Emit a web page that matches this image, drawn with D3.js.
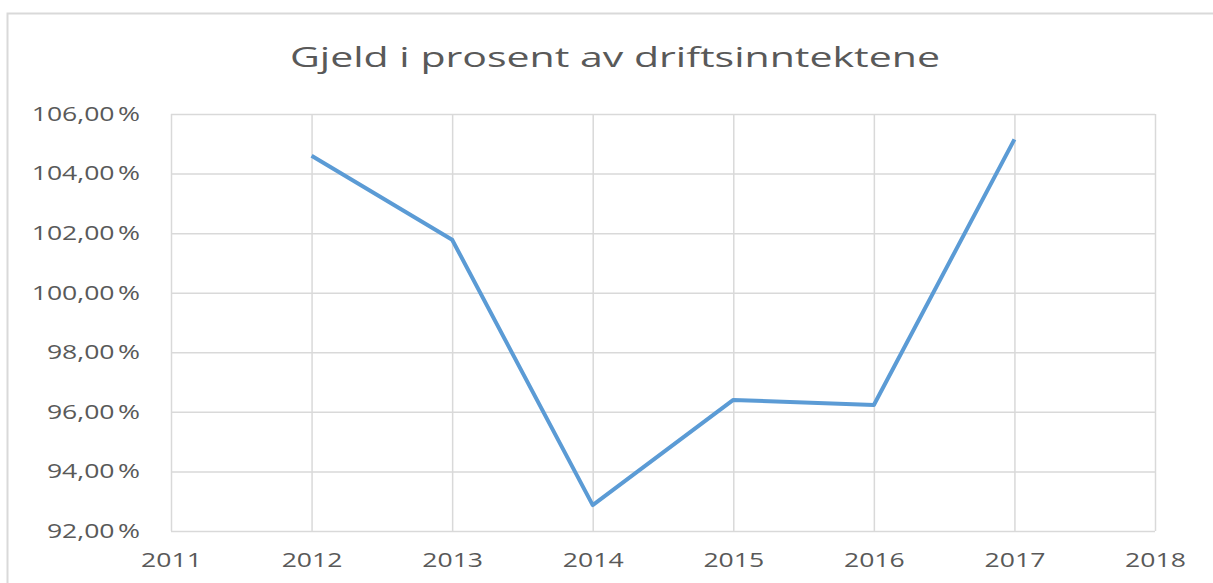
<!DOCTYPE html>
<head>
  <meta charset="utf-8">
  <title>Gjeld i prosent av driftsinntektene</title>
  <script src="https://cdn.jsdelivr.net/npm/d3@7"></script>
  <style>
    body { margin: 0; background: #fff; }
    text { font-family: "Open Sans", "Noto Sans", sans-serif; fill: #595959; }
  </style>
</head>
<body>
<div id="container"></div>
<script>

  // data
  let years = [2012, 2013, 2014, 2015, 2016, 2017];
  let values = [104.6, 101.78, 92.87, 96.4, 96.23, 105.15];
  let yTicks = [92, 94, 96, 98, 100, 102, 104, 106];
  let xTicks = [2011, 2012, 2013, 2014, 2015, 2016, 2017, 2018];
  let title = "Gjeld i prosent av driftsinntektene";

  let svg_width = 1213;
  let svg_height = 583;

  let padding = { top: 114, right: 58, bottom: 52, left: 171 };

  // the original text is drawn wide, so stretch labels sideways
  let stretch = 1.33;

  let svg = d3.select("#container").append("svg")
          .attr("width", svg_width)
          .attr("height", svg_height);

  // chart frame
  svg.append("rect")
          .attr("x", 7.5)
          .attr("y", 13.5)
          .attr("width", svg_width)
          .attr("height", svg_height)
          .attr("fill", "none")
          .attr("stroke", "#d9d9d9")
          .attr("stroke-width", 2);

  let xScale = d3.scaleLinear()
          .domain([2011, 2018])
          .range([padding.left, svg_width - padding.right]);

  let yScale = d3.scaleLinear()
          .domain([92, 106])
          .range([svg_height - padding.bottom, padding.top]);

  let fmt = function (d) { return d.toFixed(2).replace(".", ",") + "\u202f%"; };

  // horizontal grid
  svg.append("g")
          .attr("class", "grid")
          .attr("transform", "translate(" + padding.left + ",0)")
          .call(d3.axisLeft(yScale).tickValues(yTicks)
                  .tickSize(-(svg_width - padding.left - padding.right)).tickFormat(""))
          .call(g => g.select(".domain").remove())
          .call(g => g.selectAll("line").attr("stroke", "#d9d9d9").attr("stroke-width", 1.5));

  // vertical grid
  svg.append("g")
          .attr("class", "grid")
          .attr("transform", "translate(0," + (svg_height - padding.bottom) + ")")
          .call(d3.axisBottom(xScale).tickValues(xTicks)
                  .tickSize(-(svg_height - padding.top - padding.bottom)).tickFormat(""))
          .call(g => g.select(".domain").remove())
          .call(g => g.selectAll("line").attr("stroke", "#d9d9d9").attr("stroke-width", 1.5));

  // y labels
  svg.append("g")
          .attr("transform", "translate(" + padding.left + ",0)")
          .call(d3.axisLeft(yScale).tickValues(yTicks).tickSize(0).tickFormat(fmt))
          .call(g => g.select(".domain").remove())
          .call(g => g.selectAll("text")
                  .style("font-size", "20px")
                  .attr("fill", "#595959")
                  .attr("x", 0)
                  .attr("transform", "translate(-31,0) scale(" + stretch + ",1)"));

  // x labels
  svg.append("g")
          .attr("transform", "translate(0," + (svg_height - padding.bottom) + ")")
          .call(d3.axisBottom(xScale).tickValues(xTicks).tickSize(0).tickFormat(d3.format("d")))
          .call(g => g.select(".domain").remove())
          .call(g => g.selectAll("text")
                  .style("font-size", "20px")
                  .attr("fill", "#595959")
                  .attr("y", 0)
                  .attr("transform", "translate(0,22) scale(" + stretch + ",1)"));

  let series = years.map(function (y, i) { return { year: y, value: values[i] }; });

  svg.append("path")
          .datum(series)
          .attr("fill", "none")
          .attr("stroke", "#5b9bd5")
          .attr("stroke-width", 4)
          .attr("stroke-linejoin", "round")
          .attr("d", d3.line()
                  .x(function (d) { return xScale(d.year); })
                  .y(function (d) { return yScale(d.value); }));

  svg.append("text")
          .attr("x", 615)
          .attr("y", 67)
          .style("text-anchor", "middle")
          .style("font-size", "28px")
          .attr("textLength", 650)
          .attr("lengthAdjust", "spacingAndGlyphs")
          .text(title);

</script>
</body>
